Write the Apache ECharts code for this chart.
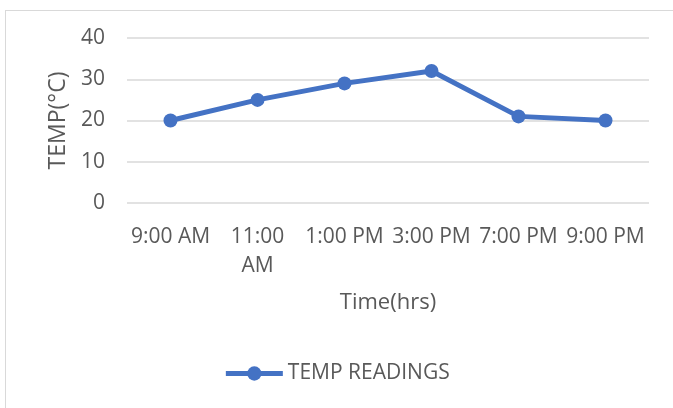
<!DOCTYPE html>
<html>
<head>
<meta charset="utf-8">
<script src="https://cdn.jsdelivr.net/npm/echarts@6/dist/echarts.min.js"></script>
<style>
html,body{margin:0;padding:0;background:#fff;}
#frame{position:absolute;left:5px;top:10px;width:700px;height:420px;border:1px solid #d9d9d9;box-sizing:border-box;}
#c{position:absolute;left:0;top:0;width:673px;height:408px;}
</style>
</head>
<body>
<div id="frame"></div>
<div id="c"></div>
<script>
const categories = ["9:00 AM", "11:00\nAM", "1:00 PM", "3:00 PM", "7:00 PM", "9:00 PM"];
const tempReadings = [20, 25, 29, 32, 21, 20];
const yTicks = { min: 0, max: 40, interval: 10 };
const seriesName = "TEMP READINGS";
const xTitle = "Time(hrs)";
const yTitle = "TEMP(°C)";

const FONT = "Open Sans";
const TXT = "#595959";
const chart = echarts.init(document.getElementById('c'), null, { renderer: 'canvas' });
chart.setOption({
  backgroundColor: 'transparent',
  animation: false,
  grid: { left: 127, right: 24, top: 38, bottom: 205, containLabel: false },
  legend: {
    data: [seriesName],
    bottom: 19,
    left: 'center',
    itemWidth: 57,
    itemHeight: 18,
    itemGap: 3,
    lineStyle: { width: 5 },
    textStyle: { fontFamily: FONT, fontSize: 21, color: TXT }
  },
  xAxis: {
    type: 'category',
    data: categories,
    boundaryGap: true,
    name: xTitle,
    nameLocation: 'middle',
    nameGap: 89,
    nameTextStyle: { fontFamily: FONT, fontSize: 22, color: TXT },
    axisLine: { show: false },
    axisTick: { show: false },
    axisLabel: { fontFamily: FONT, fontSize: 21, color: TXT, margin: 20, lineHeight: 29, interval: 0 }
  },
  yAxis: {
    type: 'value',
    min: yTicks.min, max: yTicks.max, interval: yTicks.interval,
    name: yTitle,
    nameLocation: 'middle',
    nameGap: 57,
    nameRotate: 90,
    nameTextStyle: { fontFamily: FONT, fontSize: 23, color: TXT },
    axisLine: { show: false },
    axisTick: { show: false },
    splitLine: { lineStyle: { color: '#d9d9d9', width: 1.5 } },
    axisLabel: { fontFamily: FONT, fontSize: 21, color: TXT, margin: 22 }
  },
  series: [{
    name: seriesName,
    type: 'line',
    data: tempReadings,
    symbol: 'circle',
    symbolSize: 14,
    lineStyle: { color: '#4472C4', width: 5 },
    itemStyle: { color: '#4472C4' }
  }]
});
</script>
</body>
</html>
